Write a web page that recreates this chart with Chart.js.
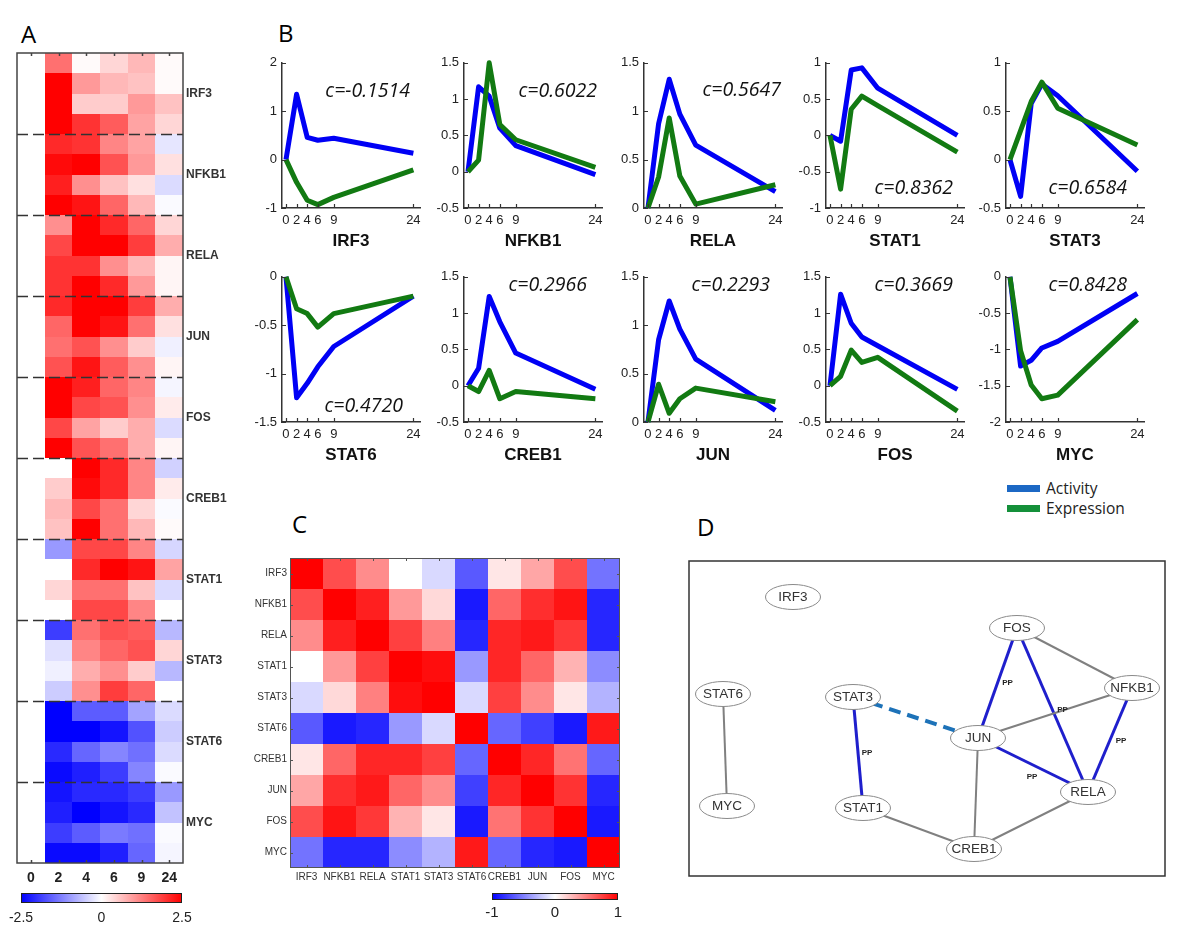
<!DOCTYPE html>
<html lang="en">
<head>
<meta charset="UTF-8">
<meta name="viewport" content="width=device-width, initial-scale=1.0">
<title>TF activity vs expression</title>
<script src="https://cdn.jsdelivr.net/npm/chart.js"></script>
<style>
  body { margin: 0; background: #fff; }
  #page { position: relative; width: 1200px; height: 935px; overflow: hidden; background: #fff; }
  #page canvas { position: absolute; }
  .panel { position: absolute; font-family: 'Open Sans', sans-serif; font-size: 24px; line-height: 24px; color: #000; }
  .key { position: absolute; left: 1007px; height: 20px; display: flex; align-items: center;
         font-family: 'Open Sans', sans-serif; font-size: 15.5px; color: #222; }
  .key span { display: inline-block; width: 33px; height: 7px; margin-right: 6px; }
</style>
</head>
<body>
<div id="page">
  <div class="panel" style="left:21px; top:22px;">A</div>
  <div class="panel" style="left:278px; top:21px;">B</div>
  <div class="panel" style="left:292px; top:512px;">C</div>
  <div class="panel" style="left:697px; top:515px;">D</div>
  <div class="key" style="top:478px;"><span style="background:#1c68c4"></span>Activity</div>
  <div class="key" style="top:498px;"><span style="background:#14903a"></span>Expression</div>
</div>

<script>
  // ---- data ----
  const times = [0, 2, 4, 6, 9, 24];
  const timeLabels = ['0', '2', '4', '6', '9', '24'];

  // panel A: 4 probes per factor, columns = time points (h)
  const heatGenes = ['IRF3', 'NFKB1', 'RELA', 'JUN', 'FOS', 'CREB1', 'STAT1', 'STAT3', 'STAT6', 'MYC'];
  const aIRF3  = [[0, 1.4, 0.05, 0.4, 0.7, 0.05], [0, 2.5, 1.0, 0.7, 0.6, 0.05], [0, 2.5, 0.5, 0.5, 1.0, 0.6], [0, 2.5, 2.0, 1.6, 0.9, 0.4]];
  const aNFKB1 = [[0, 2.1, 2.0, 1.2, 0.9, -0.25], [0, 2.4, 2.5, 1.7, 1.0, 0.3], [0, 2.2, 1.1, 0.6, 0.3, -0.35], [0, 2.5, 2.3, 1.5, 0.7, -0.05]];
  const aRELA  = [[0, 1.1, 2.5, 2.1, 1.5, 0.4], [0, 1.8, 2.5, 2.5, 1.9, 0.8], [0, 2.0, 2.0, 1.1, 0.7, 0.1], [0, 2.0, 2.5, 2.1, 1.0, 0.1]];
  const aJUN   = [[0, 2.1, 2.5, 2.5, 1.9, 0.8], [0, 1.5, 2.5, 2.3, 1.4, 0.3], [0, 1.4, 1.7, 1.1, 0.5, -0.15], [0, 1.7, 2.3, 1.6, 1.1, 0.1]];
  const aFOS   = [[0, 2.5, 2.2, 1.5, 1.2, -0.1], [0, 2.5, 1.8, 1.7, 1.1, 0.2], [0, 1.8, 0.9, 0.5, 0.8, -0.35], [0, 2.5, 1.7, 1.4, 0.8, 0.1]];
  const aCREB1 = [[0, 0.0, 2.5, 2.1, 1.2, -0.45], [0, 0.5, 2.4, 2.1, 1.2, 0.2], [0, 0.7, 1.8, 1.4, 0.4, -0.05], [0, 0.6, 2.5, 1.4, 0.7, 0.05]];
  const aSTAT1 = [[0, -1.0, 1.8, 1.8, 1.2, -0.4], [0, 0.0, 2.1, 2.5, 2.3, 0.9], [0, 0.4, 1.4, 1.4, 0.6, -0.35], [0, 0.0, 1.8, 1.8, 1.2, 0.0]];
  const aSTAT3 = [[0, -1.9, 1.4, 1.7, 1.6, -0.7], [0, -0.3, 1.2, 1.5, 1.7, 0.4], [0, -0.15, 0.8, 1.1, 0.5, -0.7], [0, -0.5, 1.1, 1.9, 1.5, 0.0]];
  const aSTAT6 = [[0, -2.5, -1.6, -1.6, -0.9, -0.35], [0, -2.5, -2.5, -2.3, -1.7, -0.5], [0, -2.1, -1.5, -1.2, -1.4, -0.35], [0, -2.4, -2.2, -1.9, -1.2, -0.05]];
  const aMYC   = [[0, -2.3, -2.1, -2.1, -1.9, -1.0], [0, -2.2, -2.5, -2.3, -2.1, -0.6], [0, -1.9, -1.6, -1.3, -1.4, -0.05], [0, -2.4, -2.4, -2.2, -1.5, -0.1]];
  const barTicksA = [-2.5, 0, 2.5];

  // panel B: activity (blue) vs expression (green)
  const genes = ['IRF3', 'NFKB1', 'RELA', 'STAT1', 'STAT3', 'STAT6', 'CREB1', 'JUN', 'FOS', 'MYC'];
  const actIRF3  = [0, 1.35, 0.46, 0.4, 0.44, 0.13];
  const expIRF3  = [0, -0.47, -0.84, -0.93, -0.78, -0.21];
  const actNFKB1 = [0, 1.17, 1.04, 0.6, 0.36, -0.04];
  const expNFKB1 = [0, 0.16, 1.5, 0.65, 0.44, 0.06];
  const actRELA  = [0, 0.87, 1.33, 0.97, 0.65, 0.17];
  const expRELA  = [0, 0.32, 0.93, 0.33, 0.04, 0.24];
  const actSTAT1 = [0, -0.08, 0.9, 0.93, 0.65, 0.0];
  const expSTAT1 = [0, -0.74, 0.36, 0.54, 0.41, -0.23];
  const actSTAT3 = [0, -0.38, 0.58, 0.78, 0.66, -0.12];
  const expSTAT3 = [0, 0.3, 0.6, 0.8, 0.53, 0.15];
  const actSTAT6 = [0, -1.25, -1.1, -0.93, -0.72, -0.2];
  const expSTAT6 = [0, -0.33, -0.38, -0.52, -0.38, -0.2];
  const actCREB1 = [0, 0.24, 1.23, 0.88, 0.45, -0.05];
  const expCREB1 = [0, -0.08, 0.21, -0.18, -0.08, -0.18];
  const actJUN   = [0, 0.85, 1.25, 0.96, 0.65, 0.12];
  const expJUN   = [0, 0.39, 0.09, 0.24, 0.35, 0.21];
  const actFOS   = [0, 1.26, 0.86, 0.67, 0.55, -0.05];
  const expFOS   = [0, 0.13, 0.49, 0.32, 0.39, -0.35];
  const actMYC   = [0, -1.23, -1.15, -0.98, -0.89, -0.23];
  const expMYC   = [0, -1.02, -1.49, -1.68, -1.63, -0.59];
  const corrValues = [-0.1514, 0.6022, 0.5647, 0.8362, 0.6584, 0.4720, 0.2966, 0.2293, 0.3669, 0.8428];
  const yMin  = [-1, -0.5, 0, -1, -0.5, -1.5, -0.5, 0, -0.5, -2];
  const yMax  = [2, 1.5, 1.5, 1, 1, 0, 1.5, 1.5, 1.5, 0];
  const yStep = [1, 0.5, 0.5, 0.5, 0.5, 0.5, 0.5, 0.5, 0.5, 0.5];

  // panel C: correlation matrix (rows/cols in `genes` order)
  const corrIRF3  = [1.0, 0.7, 0.45, 0.0, -0.15, -0.65, 0.1, 0.35, 0.7, -0.55];
  const corrNFKB1 = [0.7, 1.0, 0.88, 0.4, 0.15, -0.9, 0.6, 0.82, 0.92, -0.85];
  const corrRELA  = [0.45, 0.88, 1.0, 0.75, 0.5, -0.85, 0.85, 0.9, 0.78, -0.85];
  const corrSTAT1 = [0.0, 0.4, 0.75, 1.0, 0.95, -0.4, 0.85, 0.6, 0.3, -0.45];
  const corrSTAT3 = [-0.15, 0.15, 0.5, 0.95, 1.0, -0.15, 0.75, 0.45, 0.1, -0.3];
  const corrSTAT6 = [-0.65, -0.9, -0.85, -0.4, -0.15, 1.0, -0.6, -0.75, -0.9, 0.9];
  const corrCREB1 = [0.1, 0.6, 0.85, 0.85, 0.75, -0.6, 1.0, 0.85, 0.55, -0.6];
  const corrJUN   = [0.35, 0.82, 0.9, 0.6, 0.45, -0.75, 0.85, 1.0, 0.8, -0.85];
  const corrFOS   = [0.7, 0.92, 0.78, 0.3, 0.1, -0.9, 0.55, 0.8, 1.0, -0.9];
  const corrMYC   = [-0.55, -0.85, -0.85, -0.45, -0.3, 0.9, -0.6, -0.85, -0.9, 1.0];
  const barTicksC = [-1, 0, 1];

  // panel D: network (layout units)
  const nodeNames = ['IRF3', 'FOS', 'NFKB1', 'STAT6', 'STAT3', 'JUN', 'MYC', 'STAT1', 'RELA', 'CREB1'];
  const nodeX = [104, 328, 443, 34, 164, 289, 38, 174, 399, 285];
  const nodeY = [36, 67, 127, 133, 136, 177, 245, 247, 231, 288];
  const edgeFrom = ['STAT6', 'STAT3', 'STAT3', 'FOS', 'FOS', 'FOS', 'JUN', 'NFKB1', 'JUN', 'JUN', 'STAT1', 'RELA'];
  const edgeTo   = ['MYC', 'STAT1', 'JUN', 'JUN', 'RELA', 'NFKB1', 'NFKB1', 'RELA', 'RELA', 'CREB1', 'CREB1', 'CREB1'];
  const edgeKind = ['plain', 'pp', 'dashed', 'pp', 'pp', 'plain', 'plain', 'pp', 'pp', 'plain', 'plain', 'plain'];

  // ---- helpers ----
  Chart.defaults.font.family = "Arial, 'Liberation Sans', sans-serif";
  Chart.defaults.animation = false;

  const page = document.getElementById('page');
  function makeCanvas(left, top, w, h) {
    const cv = document.createElement('canvas');
    cv.width = w; cv.height = h;
    cv.style.left = left + 'px'; cv.style.top = top + 'px';
    cv.style.width = w + 'px'; cv.style.height = h + 'px';
    page.appendChild(cv);
    return cv;
  }

  function divColor(v, lim) {
    const t = Math.max(-1, Math.min(1, v / lim));
    if (t >= 0) { const g = Math.round(255 * (1 - t)); return `rgb(255,${g},${g})`; }
    const g = Math.round(255 * (1 + t));
    return `rgb(${g},${g},255)`;
  }

  function drawColorbar(ctx, x, y, w, h, lim, ticks, labelY, font) {
    const g = ctx.createLinearGradient(x, 0, x + w, 0);
    g.addColorStop(0, 'rgb(0,0,255)'); g.addColorStop(0.5, '#ffffff'); g.addColorStop(1, 'rgb(255,0,0)');
    ctx.fillStyle = g; ctx.fillRect(x, y, w, h);
    ctx.strokeStyle = '#222'; ctx.lineWidth = 1;
    ctx.strokeRect(x + 0.5, y + 0.5, w - 1, h - 1);
    ctx.fillStyle = '#222'; ctx.font = font; ctx.textAlign = 'center'; ctx.textBaseline = 'middle';
    ticks.forEach(v => ctx.fillText(String(v), x + (v + lim) / (2 * lim) * w, labelY));
  }

  // cells are drawn through the chart's x/y scales
  const heatCells = {
    id: 'heatCells',
    beforeDatasetsDraw(chart, args, opts) {
      const { ctx, scales: { x, y } } = chart;
      ctx.save();
      chart.data.datasets[0].data.forEach(p => {
        const x0 = Math.round(x.getPixelForValue(p.x - 0.5)), x1 = Math.round(x.getPixelForValue(p.x + 0.5));
        const y0 = Math.round(y.getPixelForValue(p.y - 0.5)), y1 = Math.round(y.getPixelForValue(p.y + 0.5));
        ctx.fillStyle = divColor(p.v, opts.lim);
        ctx.fillRect(Math.min(x0, x1), Math.min(y0, y1), Math.abs(x1 - x0), Math.abs(y1 - y0));
      });
      ctx.restore();
    }
  };

  const noInteraction = { legend: { display: false }, tooltip: { enabled: false } };
  const hiddenGrid = { display: false, drawTicks: false, tickLength: 0 };

  // ---- panel A ----
  const rowsA = [aIRF3, aNFKB1, aRELA, aJUN, aFOS, aCREB1, aSTAT1, aSTAT3, aSTAT6, aMYC].flat();
  const cellsA = [];
  rowsA.forEach((row, r) => row.forEach((v, c) => cellsA.push({ x: c + 0.5, y: r + 0.5, v })));

  const frameA = {
    id: 'frameA',
    afterDraw(chart) {
      const { ctx, chartArea: a, scales: { x, y } } = chart;
      ctx.save();
      ctx.strokeStyle = '#333'; ctx.lineWidth = 1.3; ctx.setLineDash([11, 5]);
      ctx.beginPath();
      for (let g = 1; g < heatGenes.length; g++) {
        const py = Math.round(y.getPixelForValue(g * 4)) + 0.5;
        ctx.moveTo(a.left, py); ctx.lineTo(a.right, py);
      }
      ctx.stroke();
      ctx.setLineDash([]);
      ctx.strokeStyle = '#444'; ctx.lineWidth = 1.5;
      ctx.strokeRect(a.left, a.top, a.right - a.left, a.bottom - a.top);
      ctx.beginPath();
      x.ticks.forEach(t => {
        const px = Math.round(x.getPixelForValue(t.value)) + 0.5;
        ctx.moveTo(px, a.top); ctx.lineTo(px, a.top + 3);
        ctx.moveTo(px, a.bottom); ctx.lineTo(px, a.bottom - 3);
      });
      ctx.stroke();
      drawColorbar(ctx, 21, 853, 161, 10, 2.5, barTicksA, 878, '14px Arial');
      ctx.restore();
    }
  };

  new Chart(makeCanvas(0, 40, 240, 895), {
    type: 'scatter',
    data: { datasets: [{ data: cellsA, pointRadius: 0 }] },
    options: {
      responsive: false, devicePixelRatio: 1, events: [],
      layout: { padding: { left: 17, top: 13, right: 7, bottom: 46 } },
      plugins: { ...noInteraction, heatCells: { lim: 2.5 } },
      scales: {
        x: {
          type: 'linear', min: 0, max: 6, position: 'bottom',
          afterBuildTicks: s => { s.ticks = timeLabels.map((_, i) => ({ value: i + 0.5 })); },
          afterFit: s => { s.height = 26; },
          grid: hiddenGrid, border: { display: false },
          ticks: { autoSkip: false, maxRotation: 0, padding: 7, color: '#222',
                   font: { size: 14, weight: 'bold' }, callback: (v, i) => timeLabels[i] }
        },
        y: {
          type: 'linear', min: 0, max: 40, reverse: true, position: 'right',
          afterBuildTicks: s => { s.ticks = heatGenes.map((_, i) => ({ value: i * 4 + 2 })); },
          afterFit: s => { s.width = 50; },
          grid: hiddenGrid, border: { display: false },
          ticks: { autoSkip: false, padding: 3, color: '#333',
                   font: { size: 12, weight: 'bold' }, callback: (v, i) => heatGenes[i] }
        }
      }
    },
    plugins: [heatCells, frameA]
  });

  // ---- panel B ----
  const activity = [actIRF3, actNFKB1, actRELA, actSTAT1, actSTAT3, actSTAT6, actCREB1, actJUN, actFOS, actMYC];
  const expression = [expIRF3, expNFKB1, expRELA, expSTAT1, expSTAT3, expSTAT6, expCREB1, expJUN, expFOS, expMYC];
  const bAxisLeft = [282, 464, 644, 826, 1006];
  const bPlotTop = [62, 276];
  // placement of the c= text: [inset from right, offset from top]
  const cPlace = [[10, 29], [5, 29], [1, 28], [11, 126], [17, 126], [17, 130], [15, 9], [12, 9], [11, 9], [17, 9]];

  const innerTicks = {
    id: 'innerTicks',
    afterDraw(chart) {
      const { ctx, chartArea: a, scales: { x, y } } = chart;
      ctx.save(); ctx.strokeStyle = '#333'; ctx.lineWidth = 1.2;
      ctx.beginPath();
      x.ticks.forEach(t => { const p = Math.round(x.getPixelForValue(t.value)) + 0.5; ctx.moveTo(p, a.bottom); ctx.lineTo(p, a.bottom - 4); });
      y.ticks.forEach(t => { const p = Math.round(y.getPixelForValue(t.value)) + 0.5; ctx.moveTo(a.left, p); ctx.lineTo(a.left + 4, p); });
      ctx.stroke(); ctx.restore();
    }
  };
  const corrLabel = {
    id: 'corrLabel',
    afterDatasetsDraw(chart, args, o) {
      const { ctx, chartArea: a } = chart;
      ctx.save();
      ctx.font = "italic 19.5px 'Open Sans', sans-serif"; ctx.fillStyle = '#111';
      ctx.textAlign = 'right'; ctx.textBaseline = 'middle';
      ctx.fillText(o.text, a.right - o.dx, a.top + o.dy);
      ctx.restore();
    }
  };

  genes.forEach((gene, i) => {
    const col = i % 5, row = Math.floor(i / 5);
    const cv = makeCanvas(bAxisLeft[col] - 42, bPlotTop[row] - 12, 194, 202);
    new Chart(cv, {
      type: 'line',
      data: {
        datasets: [
          { label: 'Activity', data: times.map((t, k) => ({ x: t, y: activity[i][k] })),
            borderColor: '#0000f5', borderWidth: 5, borderJoinStyle: 'round', pointRadius: 0, clip: false, order: 1 },
          { label: 'Expression', data: times.map((t, k) => ({ x: t, y: expression[i][k] })),
            borderColor: 'rgb(18,122,18)', borderWidth: 5, borderJoinStyle: 'round', pointRadius: 0, clip: false, order: 0 }
        ]
      },
      options: {
        responsive: false, devicePixelRatio: 1, events: [],
        layout: { padding: { left: 0, top: 12, right: 14, bottom: 0 } },
        plugins: { ...noInteraction,
          corrLabel: { text: 'c=' + corrValues[i].toFixed(4), dx: cPlace[i][0], dy: cPlace[i][1] } },
        scales: {
          x: {
            type: 'linear', min: -0.75, max: 25.25,
            afterBuildTicks: s => { s.ticks = times.map(v => ({ value: v })); },
            afterFit: s => { s.height = 44; },
            grid: hiddenGrid, border: { color: '#333', width: 1.5 },
            ticks: { autoSkip: false, maxRotation: 0, padding: 5, color: '#222', font: { size: 13 },
                     callback: v => String(v) },
            title: { display: true, text: gene, color: '#111', font: { size: 17, weight: 'bold' },
                     padding: { top: 0, bottom: 0 } }
          },
          y: {
            type: 'linear', min: yMin[i], max: yMax[i],
            afterFit: s => { s.width = 42; },
            grid: hiddenGrid, border: { color: '#333', width: 1.5 },
            ticks: { stepSize: yStep[i], padding: 5, color: '#222', font: { size: 13 },
                     callback: v => String(+v.toFixed(2)) }
          }
        }
      },
      plugins: [innerTicks, corrLabel]
    });
  });

  // ---- panel C ----
  const corrRows = [corrIRF3, corrNFKB1, corrRELA, corrSTAT1, corrSTAT3, corrSTAT6, corrCREB1, corrJUN, corrFOS, corrMYC];
  const cellsC = [];
  corrRows.forEach((row, r) => row.forEach((v, c) => cellsC.push({ x: c + 0.5, y: r + 0.5, v })));

  const frameC = {
    id: 'frameC',
    afterDraw(chart) {
      const { ctx, chartArea: a, scales: { x, y } } = chart;
      ctx.save();
      ctx.strokeStyle = '#555'; ctx.lineWidth = 1;
      ctx.strokeRect(a.left + 0.5, a.top + 0.5, a.right - a.left - 1, a.bottom - a.top - 1);
      ctx.beginPath();
      x.ticks.forEach(t => {
        const p = Math.round(x.getPixelForValue(t.value)) + 0.5;
        ctx.moveTo(p, a.top); ctx.lineTo(p, a.top + 3);
        ctx.moveTo(p, a.bottom); ctx.lineTo(p, a.bottom - 3);
      });
      y.ticks.forEach(t => {
        const p = Math.round(y.getPixelForValue(t.value)) + 0.5;
        ctx.moveTo(a.left, p); ctx.lineTo(a.left + 3, p);
        ctx.moveTo(a.right, p); ctx.lineTo(a.right - 3, p);
      });
      ctx.stroke();
      drawColorbar(ctx, 262, 353, 126, 7, 1, barTicksC, 373, '15px Arial');
      ctx.restore();
    }
  };

  new Chart(makeCanvas(230, 540, 400, 395), {
    type: 'scatter',
    data: { datasets: [{ data: cellsC, pointRadius: 0 }] },
    options: {
      responsive: false, devicePixelRatio: 1, events: [],
      layout: { padding: { left: 0, top: 18, right: 10, bottom: 47 } },
      plugins: { ...noInteraction, heatCells: { lim: 1 } },
      scales: {
        x: {
          type: 'linear', min: 0, max: 10, position: 'bottom',
          afterBuildTicks: s => { s.ticks = genes.map((_, i) => ({ value: i + 0.5 })); },
          afterFit: s => { s.height = 20; },
          grid: hiddenGrid, border: { display: false },
          ticks: { autoSkip: false, maxRotation: 0, padding: 3, color: '#333', font: { size: 10 },
                   callback: (v, i) => genes[i] }
        },
        y: {
          type: 'linear', min: 0, max: 10, reverse: true, position: 'left',
          afterBuildTicks: s => { s.ticks = genes.map((_, i) => ({ value: i + 0.5 })); },
          afterFit: s => { s.width = 60; },
          grid: hiddenGrid, border: { display: false },
          ticks: { autoSkip: false, padding: 3, color: '#333', font: { size: 10 },
                   callback: (v, i) => genes[i] }
        }
      }
    },
    plugins: [heatCells, frameC]
  });

  // ---- panel D ----
  const ppShift = { 'STAT3-STAT1': [9, 0], 'FOS-JUN': [10, 0], 'FOS-RELA': [10, 0], 'NFKB1-RELA': [11, 1], 'JUN-RELA': [-1, 12] };
  const network = {
    id: 'network',
    beforeDatasetsDraw(chart) {
      const { ctx, scales: { x, y } } = chart;
      const pos = name => { const k = nodeNames.indexOf(name); return [x.getPixelForValue(nodeX[k]), y.getPixelForValue(nodeY[k])]; };
      ctx.save();
      edgeFrom.forEach((from, e) => {
        const [x0, y0] = pos(from), [x1, y1] = pos(edgeTo[e]);
        const kind = edgeKind[e];
        ctx.setLineDash(kind === 'dashed' ? [12, 7] : []);
        ctx.strokeStyle = kind === 'pp' ? '#1f1fcc' : kind === 'dashed' ? '#1d72b8' : '#808080';
        ctx.lineWidth = kind === 'pp' ? 3 : kind === 'dashed' ? 4 : 2;
        ctx.beginPath(); ctx.moveTo(x0, y0); ctx.lineTo(x1, y1); ctx.stroke();
      });
      ctx.setLineDash([]);
      ctx.restore();
    },
    afterDatasetsDraw(chart) {
      const { ctx, chartArea: a, scales: { x, y } } = chart;
      const pos = name => { const k = nodeNames.indexOf(name); return [x.getPixelForValue(nodeX[k]), y.getPixelForValue(nodeY[k])]; };
      ctx.save();
      ctx.font = 'bold 8px Arial'; ctx.fillStyle = '#222'; ctx.textAlign = 'center'; ctx.textBaseline = 'middle';
      edgeFrom.forEach((from, e) => {
        if (edgeKind[e] !== 'pp') return;
        const [x0, y0] = pos(from), [x1, y1] = pos(edgeTo[e]);
        const s = ppShift[from + '-' + edgeTo[e]] || [0, 0];
        ctx.fillText('PP', (x0 + x1) / 2 + s[0], (y0 + y1) / 2 + s[1]);
      });
      nodeNames.forEach(name => {
        const [px, py] = pos(name);
        ctx.beginPath(); ctx.ellipse(px, py, 27.5, 12.5, 0, 0, Math.PI * 2);
        ctx.fillStyle = '#fff'; ctx.fill();
        ctx.strokeStyle = '#8a8a8a'; ctx.lineWidth = 1; ctx.stroke();
        ctx.fillStyle = '#333'; ctx.font = '13.5px Arial';
        ctx.fillText(name, px, py + 0.5);
      });
      ctx.strokeStyle = '#333'; ctx.lineWidth = 1.5;
      ctx.strokeRect(a.left, a.top, a.right - a.left, a.bottom - a.top);
      ctx.restore();
    }
  };

  new Chart(makeCanvas(686, 558, 482, 321), {
    type: 'scatter',
    data: { datasets: [{ data: nodeNames.map((n, k) => ({ x: nodeX[k], y: nodeY[k] })), pointRadius: 0 }] },
    options: {
      responsive: false, devicePixelRatio: 1, events: [],
      layout: { padding: 3 },
      plugins: noInteraction,
      scales: {
        x: { type: 'linear', min: 0, max: 476, display: false },
        y: { type: 'linear', min: 0, max: 315, reverse: true, display: false }
      }
    },
    plugins: [network]
  });
</script>
</body>
</html>
